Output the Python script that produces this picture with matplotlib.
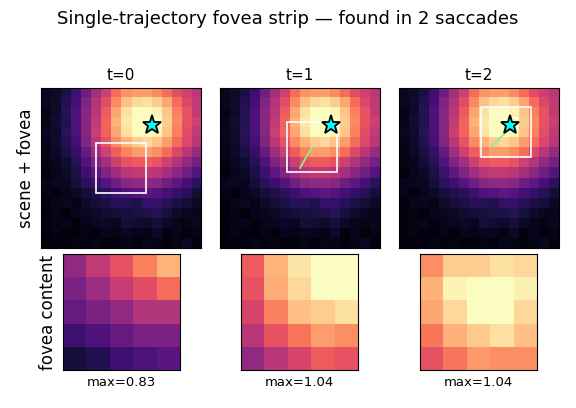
import numpy as np
import matplotlib.pyplot as plt
from matplotlib.patches import Rectangle

scene = np.array([
    [0.06,0.08,0.12,0.20,0.32,0.45,0.55,0.68,0.76,0.78,0.78,0.74,0.68,0.60,0.55,0.50],
    [0.06,0.08,0.14,0.22,0.36,0.48,0.60,0.74,0.85,0.90,0.92,0.88,0.80,0.68,0.58,0.52],
    [0.04,0.08,0.15,0.24,0.38,0.50,0.64,0.80,0.92,0.98,1.00,0.96,0.86,0.72,0.62,0.52],
    [0.05,0.09,0.14,0.24,0.38,0.52,0.66,0.82,0.94,1.02,1.04,1.00,0.88,0.74,0.62,0.55],
    [0.06,0.08,0.16,0.24,0.38,0.54,0.66,0.80,0.92,0.98,1.00,0.96,0.86,0.72,0.60,0.52],
    [0.05,0.08,0.14,0.22,0.36,0.50,0.62,0.74,0.82,0.88,0.90,0.86,0.78,0.68,0.58,0.50],
    [0.04,0.07,0.12,0.18,0.30,0.44,0.55,0.65,0.73,0.78,0.78,0.75,0.68,0.58,0.50,0.42],
    [0.04,0.06,0.09,0.15,0.25,0.36,0.45,0.55,0.62,0.64,0.64,0.62,0.55,0.48,0.40,0.34],
    [0.03,0.05,0.07,0.12,0.20,0.28,0.36,0.44,0.50,0.52,0.52,0.50,0.45,0.38,0.32,0.26],
    [0.05,0.06,0.06,0.10,0.16,0.20,0.26,0.32,0.38,0.40,0.40,0.38,0.32,0.28,0.22,0.16],
    [0.04,0.03,0.05,0.07,0.10,0.13,0.16,0.20,0.24,0.26,0.28,0.26,0.22,0.18,0.15,0.10],
    [0.03,0.05,0.06,0.04,0.08,0.10,0.12,0.15,0.15,0.13,0.18,0.18,0.15,0.12,0.10,0.07],
    [0.02,0.04,0.03,0.05,0.06,0.07,0.09,0.10,0.11,0.12,0.13,0.15,0.11,0.08,0.06,0.05],
    [0.03,0.04,0.05,0.03,0.05,0.06,0.07,0.06,0.10,0.09,0.08,0.10,0.07,0.05,0.04,0.06],
    [0.02,0.04,0.03,0.02,0.04,0.03,0.05,0.04,0.06,0.05,0.04,0.07,0.03,0.05,0.03,0.04],
    [0.03,0.02,0.03,0.04,0.03,0.04,0.02,0.03,0.04,0.03,0.05,0.04,0.03,0.04,0.06,0.03],
])

target = (10.6, 3.2)
box_xy = [(5.0, 5.0), (6.2, 2.9), (7.7, 1.4)]
fovea_size = 5

fovea = [
    np.array([[0.40,0.52,0.62,0.72,0.83],
              [0.35,0.43,0.53,0.60,0.68],
              [0.30,0.35,0.40,0.48,0.48],
              [0.20,0.25,0.30,0.35,0.35],
              [0.10,0.14,0.20,0.24,0.27]]),
    np.array([[0.64,0.83,0.93,1.02,1.02],
              [0.62,0.81,0.90,1.03,1.04],
              [0.57,0.72,0.85,0.88,0.92],
              [0.50,0.62,0.70,0.78,0.75],
              [0.40,0.50,0.57,0.64,0.62]]),
    np.array([[0.75,0.88,0.88,0.92,0.90],
              [0.82,0.96,1.02,1.02,0.95],
              [0.80,0.90,1.03,1.03,0.90],
              [0.70,0.82,0.87,0.92,0.85],
              [0.62,0.70,0.77,0.75,0.75]]),
]
max_labels = ["max=0.83", "max=1.04", "max=1.04"]
vmax = 0.98

fig = plt.figure(figsize=(5.76, 4.08), dpi=100)
fig.suptitle("Single-trajectory fovea strip \u2014 found in 2 saccades", fontsize=13, y=0.975)

W, H = 576, 408
top_x = [41, 220, 399]
bot_x = [63, 241, 420]
for t in range(3):
    ax = fig.add_axes([top_x[t]/W, 1-248/H, 160/W, 160/H])
    ax.imshow(scene, cmap='magma', vmin=0, vmax=vmax, interpolation='nearest')
    bx, by = box_xy[t]
    ax.add_patch(Rectangle((bx, by), fovea_size, fovea_size, fill=False, ec='white', lw=1.2))
    if t > 0:
        px, py = box_xy[t-1]
        ax.plot([px+2.5, bx+2.5], [py+2.5, by+2.5], color='lightgreen', lw=1.3)
    ax.plot(*target, marker='*', ms=14, color='cyan', mec='black', mew=1.3)
    ax.set_xticks([]); ax.set_yticks([])
    ax.set_xlim(-0.5, 15.5); ax.set_ylim(15.5, -0.5)
    ax.set_title(f"t={t}", fontsize=11)
    if t == 0:
        ax.set_ylabel("scene + fovea", fontsize=12)

    ax2 = fig.add_axes([bot_x[t]/W, 1-370/H, 117/W, 116/H])
    ax2.imshow(fovea[t], cmap='magma', vmin=0, vmax=vmax, interpolation='nearest', aspect='auto')
    ax2.set_xticks([]); ax2.set_yticks([])
    ax2.set_xlabel(max_labels[t], fontsize=9.5, labelpad=4)
    if t == 0:
        ax2.set_ylabel("fovea content", fontsize=12)

fig.savefig("out.png", dpi=100)
